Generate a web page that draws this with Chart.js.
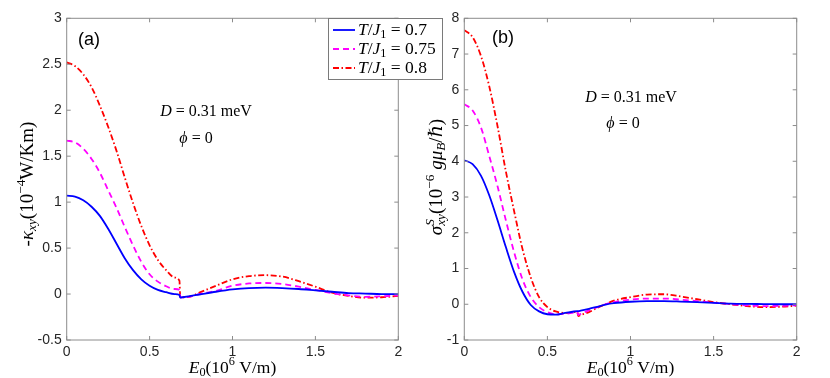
<!DOCTYPE html>
<html>
<head>
<meta charset="utf-8">
<script src="https://cdn.jsdelivr.net/npm/chart.js@4.4.1/dist/chart.umd.min.js"></script>
<style>
  body { margin: 0; background: #fff; }
  #wrap { position: relative; width: 830px; height: 378px; }
  canvas { position: absolute; left: 0; top: 0; }
</style>
</head>
<body>
<div id="wrap">
  <canvas id="chartA" width="830" height="378"></canvas>
  <canvas id="chartB" width="830" height="378"></canvas>
</div>
<script>
// temperatures T/J1
var temps = ['0.7', '0.75', '0.8'];

// panel (a): -kappa_xy vs E0
var xA = [0, 0.05, 0.1, 0.15, 0.2, 0.25, 0.3, 0.35, 0.4, 0.45, 0.5, 0.55, 0.6, 0.65, 0.68, 0.685, 0.7, 0.75, 0.8, 0.9, 1.0, 1.1, 1.2, 1.3, 1.4, 1.5, 1.6, 1.7, 1.8, 1.9, 2.0];
var blueA = [1.07, 1.06, 1.02, 0.95, 0.85, 0.71, 0.55, 0.39, 0.26, 0.16, 0.09, 0.045, 0.02, 0.0, -0.01, -0.04, -0.035, -0.02, -0.005, 0.025, 0.05, 0.065, 0.07, 0.065, 0.055, 0.04, 0.025, 0.01, 0.005, 0.0, 0.0];
var magentaA = [1.67, 1.65, 1.58, 1.47, 1.32, 1.13, 0.94, 0.73, 0.53, 0.35, 0.215, 0.135, 0.085, 0.055, 0.045, -0.035, -0.035, -0.025, 0.0, 0.035, 0.09, 0.115, 0.12, 0.11, 0.08, 0.045, 0.01, -0.015, -0.03, -0.025, -0.015];
var redA = [2.52, 2.48, 2.39, 2.25, 2.05, 1.82, 1.56, 1.27, 0.99, 0.74, 0.53, 0.37, 0.26, 0.18, 0.145, -0.03, -0.035, -0.025, 0.015, 0.09, 0.16, 0.195, 0.205, 0.19, 0.14, 0.08, 0.015, -0.02, -0.04, -0.035, -0.02];

// panel (b): sigma^S_xy vs E0
var xB = [0, 0.05, 0.1, 0.15, 0.2, 0.25, 0.3, 0.35, 0.4, 0.45, 0.5, 0.55, 0.6, 0.65, 0.68, 0.685, 0.7, 0.75, 0.8, 0.85, 0.9, 1.0, 1.1, 1.2, 1.3, 1.4, 1.5, 1.6, 1.7, 1.8, 1.9, 2.0];
var blueB = [4.03, 3.92, 3.6, 3.05, 2.35, 1.6, 0.9, 0.35, -0.02, -0.2, -0.28, -0.29, -0.25, -0.21, -0.19, -0.19, -0.18, -0.13, -0.07, -0.01, 0.03, 0.07, 0.085, 0.085, 0.075, 0.06, 0.04, 0.02, 0.01, 0.005, 0.0, 0.0];
var magentaB = [5.6, 5.42, 4.95, 4.15, 3.3, 2.35, 1.45, 0.7, 0.2, -0.08, -0.22, -0.28, -0.27, -0.24, -0.22, -0.3, -0.27, -0.17, -0.08, 0.0, 0.06, 0.13, 0.16, 0.16, 0.13, 0.09, 0.045, 0.005, -0.03, -0.05, -0.045, -0.03];
var redB = [7.67, 7.47, 6.95, 6.1, 4.98, 3.72, 2.6, 1.55, 0.75, 0.2, -0.08, -0.2, -0.24, -0.23, -0.21, -0.33, -0.3, -0.22, -0.1, 0.0, 0.1, 0.2, 0.27, 0.28, 0.22, 0.14, 0.06, 0.0, -0.05, -0.08, -0.07, -0.04];

var colors = ['#0000ff', '#ff00ff', '#ff0000'];
var dashes = [[], [6, 4], [6, 2.5, 1.5, 2.5]];
var SERIF = '"Liberation Serif", "DejaVu Serif", serif';
var SANS = '"Liberation Sans", Arial, sans-serif';

function pts(xs, ys) {
    var out = [];
    for (var i in xs) {
        out.push({x: xs[i], y: ys[i]});
    }
    return out;
}

function makeSets(xs, series) {
    var sets = [];
    for (var i = 0; i < series.length; i++) {
        sets.push({
            label: 'T/J₁ = ' + temps[i],
            data: pts(xs, series[i]),
            borderColor: colors[i],
            borderDash: dashes[i],
            borderWidth: 1.8,
            pointRadius: 0,
            fill: false,
            cubicInterpolationMode: 'monotone'
        });
    }
    return sets;
}

// draw text with italic / sub / sup pieces
function segFont(s, size) {
    var sz = (s.sup || s.sub) ? size * 0.7 : size;
    return (s.it ? 'italic ' : '') + sz + 'px ' + SERIF;
}
function drawRich(ctx, segs, x, y, size, rot, align) {
    ctx.save();
    ctx.translate(x, y);
    if (rot) ctx.rotate(-Math.PI / 2);
    var widths = [], total = 0;
    segs.forEach(function(s) {
        var parts = s.stack || [s], m = 0;
        parts.forEach(function(p) {
            ctx.font = segFont(p, size);
            m = Math.max(m, ctx.measureText(p.t).width);
        });
        widths.push(m);
        total += m;
    });
    var cx = align == 'left' ? 0 : -total / 2;
    ctx.textBaseline = 'middle';
    ctx.textAlign = 'left';
    ctx.fillStyle = '#000';
    segs.forEach(function(s, i) {
        (s.stack || [s]).forEach(function(p) {
            ctx.font = segFont(p, size);
            var dy = p.sup ? -size * 0.36 : (p.sub ? size * 0.26 : 0);
            ctx.fillText(p.t, cx, dy);
        });
        cx += widths[i];
    });
    ctx.restore();
}

var xTitle = [{t: 'E', it: true}, {t: '0', sub: true}, {t: '(10'}, {t: '6', sup: true}, {t: ' V/m)'}];
var yTitleA = [{t: '-'}, {t: 'κ', it: true}, {t: 'xy', it: true, sub: true}, {t: '(10'}, {t: '−4', sup: true}, {t: 'W/Km)'}];
var yTitleB = [{t: 'σ', it: true}, {stack: [{t: 'S', it: true, sup: true}, {t: 'xy', it: true, sub: true}]}, {t: '(10'}, {t: '−6', sup: true}, {t: ' gμ', it: true}, {t: 'B', it: true, sub: true}, {t: '/ℏ)'}];
var dText = [{t: 'D', it: true}, {t: ' = 0.31 meV'}];
var phiText = [{t: 'ϕ', it: true}, {t: ' = 0'}];

// frame with inward ticks on all four sides, plus labels
function framePlugin(opts) {
    return {
        id: 'frame',
        afterDatasetsDraw: function(chart) {
            var ctx = chart.ctx, a = chart.chartArea;
            var xs = chart.scales.x, ys = chart.scales.y;
            ctx.save();
            ctx.strokeStyle = '#8c8c8c';
            ctx.lineWidth = 1;
            ctx.strokeRect(a.left, a.top, a.right - a.left, a.bottom - a.top);
            ctx.beginPath();
            xs.ticks.forEach(function(t) {
                var px = xs.getPixelForValue(t.value);
                ctx.moveTo(px, a.bottom); ctx.lineTo(px, a.bottom - 4);
                ctx.moveTo(px, a.top); ctx.lineTo(px, a.top + 4);
            });
            ys.ticks.forEach(function(t) {
                var py = ys.getPixelForValue(t.value);
                ctx.moveTo(a.left, py); ctx.lineTo(a.left + 4, py);
                ctx.moveTo(a.right, py); ctx.lineTo(a.right - 4, py);
            });
            ctx.stroke();

            var cxm = (a.left + a.right) / 2;
            drawRich(ctx, xTitle, cxm, 368, 17.5, false);
            drawRich(ctx, opts.yTitle, opts.yTitleX, opts.yTitleY, 19, true);
            drawRich(ctx, dText, opts.dPos[0], opts.dPos[1], 16, false);
            drawRich(ctx, phiText, opts.phiPos[0], opts.phiPos[1], 16, false);
            ctx.font = '18px ' + SANS;
            ctx.fillStyle = '#000';
            ctx.textBaseline = 'middle';
            ctx.textAlign = 'left';
            ctx.fillText(opts.tag, opts.tagPos[0], opts.tagPos[1]);

            if (opts.legend) {
                var lx = 328, ly = 18, lw = 114, lh = 61;
                ctx.fillStyle = '#fff';
                ctx.fillRect(lx, ly, lw, lh);
                ctx.strokeStyle = '#7a7a7a';
                ctx.strokeRect(lx + 0.5, ly + 0.5, lw, lh);
                chart.data.datasets.forEach(function(ds, i) {
                    var ry = 30 + i * 19;
                    ctx.beginPath();
                    ctx.strokeStyle = ds.borderColor;
                    ctx.lineWidth = 1.8;
                    ctx.setLineDash(ds.borderDash);
                    ctx.moveTo(333, ry); ctx.lineTo(355, ry);
                    ctx.stroke();
                    ctx.setLineDash([]);
                    drawRich(ctx, [{t: 'T', it: true}, {t: '/'}, {t: 'J', it: true}, {t: '1', sub: true}, {t: ' = ' + temps[i]}], 358, ry, 17.5, false, 'left');
                });
            }
            ctx.restore();
        }
    };
}

function tickFmt(v) {
    return String(Math.round(v * 10) / 10);
}

function makeChart(id, xs, series, yMin, yMax, yStep, padL, padR, opts) {
    var ctx = document.getElementById(id).getContext('2d');
    return new Chart(ctx, {
        type: 'line',
        data: { datasets: makeSets(xs, series) },
        options: {
            responsive: false,
            animation: false,
            devicePixelRatio: 1,
            layout: { padding: { left: 0, right: padR, top: 18.3, bottom: 0 } },
            plugins: { legend: { display: false }, tooltip: { enabled: false } },
            scales: {
                x: {
                    type: 'linear', min: 0, max: 2,
                    grid: { display: false, tickLength: 0 }, border: { display: false },
                    ticks: { stepSize: 0.5, padding: 4, color: '#262626', font: { family: SANS, size: 14 }, callback: tickFmt },
                    afterFit: function(s) { s.height = 38; }
                },
                y: {
                    min: yMin, max: yMax,
                    grid: { display: false, tickLength: 0 }, border: { display: false },
                    ticks: { stepSize: yStep, padding: 5, color: '#262626', font: { family: SANS, size: 14 }, callback: tickFmt },
                    afterFit: function(s) { s.width = padL; }
                }
            }
        },
        plugins: [framePlugin(opts)]
    });
}

makeChart('chartA', xA, [blueA, magentaA, redA], -0.5, 3, 0.5, 66.7, 830 - 398.3, {
    yTitle: yTitleA, yTitleX: 28, yTitleY: 184, dPos: [206, 112], phiPos: [196, 139],
    tag: '(a)', tagPos: [78, 40], legend: true
});
makeChart('chartB', xB, [blueB, magentaB, redB], -1, 8, 1, 464.3, 830 - 796.7, {
    yTitle: yTitleB, yTitleX: 437, yTitleY: 177, dPos: [631, 98], phiPos: [623, 124],
    tag: '(b)', tagPos: [492, 38], legend: false
});
</script>
</body>
</html>
